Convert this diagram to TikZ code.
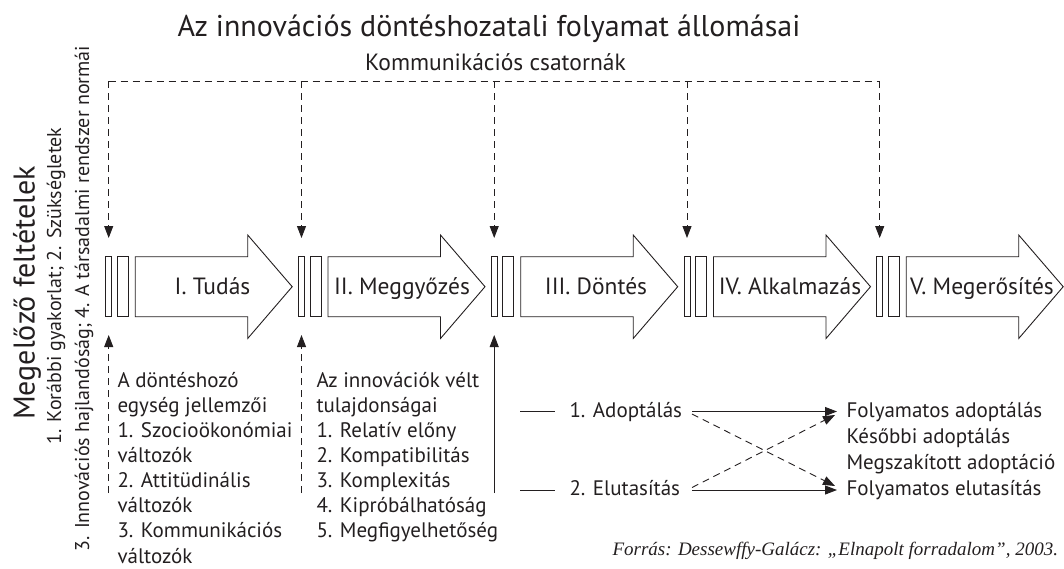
\documentclass[tikz,border=0pt]{standalone}
\usepackage{fontspec}
\setmainfont{PT Sans}
\newfontfamily\srcfont{Liberation Serif}
\usetikzlibrary{arrows.meta}
\definecolor{ink}{HTML}{231F20}
\begin{document}
\begin{tikzpicture}[x=1pt,y=-1pt,line width=0.9pt,draw=ink,
  every node/.style={inner sep=0pt,outer sep=0pt,text=ink},
  slotA/.style={draw,minimum width=6pt,minimum height=60pt,anchor=north west},
  slotB/.style={draw,minimum width=11pt,minimum height=60pt,anchor=north west},
  tip/.style={-{Triangle[width=9pt,length=12pt]}},
  dashln/.style={dash pattern=on 7pt off 5pt},
  steplab/.style={font=\fontsize{23.5}{28}\selectfont,anchor=base},
  listtxt/.style={font=\fontsize{21}{25}\selectfont,anchor=base west},
  sidetxt/.style={font=\fontsize{20}{24}\selectfont,rotate=90}]
\useasboundingbox (0,0) rectangle (1064,568);

\node[anchor=base] (title) at (489,36.5) {\fontsize{30}{36}\selectfont Az innovációs döntéshozatali folyamat állomásai};
\node[anchor=base] (kom) at (495.5,70) {\fontsize{23.5}{28}\selectfont Kommunikációs csatornák};

\foreach \g/\lab/\cx [count=\i] in {105.7/{I. Tudás}/212.5,298.5/{II. Meggyőzés}/402,491.2/{III. Döntés}/596,684/{IV. Alkalmazás}/790,876.7/{V. Megerősítés}/982}{
  \node[slotA] (sa\i) at (\g,256.7) {};
  \node[slotB] (sb\i) at (\g+11.5,256.7) {};
  \draw (\g+29.5,256.7) -- (\g+142,256.7) -- (\g+142,235) -- (\g+186.5,286.7)
        -- (\g+142,338.5) -- (\g+142,316.7) -- (\g+29.5,316.7) -- cycle;
  \node[steplab] (st\i) at (\cx,294) {\lab};
  \coordinate (top\i) at (\g+3,81);
  \coordinate (tin\i) at (\g+3,238);
  \draw[dashln,tip] (top\i) -- (tin\i);
}
\draw[dashln] (top1) -- (top5);

% bottom influence arrows
\coordinate (u1) at (108.7,493);
\coordinate (u1t) at (108.7,335);
\coordinate (u2) at (301.5,493);
\coordinate (u2t) at (301.5,335);
\coordinate (u3) at (494.2,493);
\coordinate (u3t) at (494.2,335);
\draw[dashln,tip] (u1) -- (u1t);
\draw[dashln,tip] (u2) -- (u2t);
\draw[tip] (u3) -- (u3t);

\foreach \t [count=\k] in {A döntéshozó,egység jellemzői,1. Szocioökonómiai,változók,2. Attitüdinális,változók,3. Kommunikációs,változók}
  \node[listtxt] (la\k) at (117.5,{387+25.15*(\k-1)}) {\t};
\foreach \t [count=\k] in {Az innovációk vélt,tulajdonságai,1. Relatív előny,2. Kompatibilitás,3. Komplexitás,4. Kipróbálhatóság,5. Megfigyelhetőség}
  \node[listtxt] (lb\k) at (316.5,{387+25.15*(\k-1)}) {\t};

% decision
\coordinate (a0) at (520,411.5);
\coordinate (a1) at (555,411.5);
\node[listtxt] (ad) at (569.5,417) {1. Adoptálás};
\coordinate (e0) at (520,490);
\coordinate (e1) at (555,490);
\node[listtxt] (el) at (569.5,495.5) {2. Elutasítás};
\draw (a0) -- (a1);
\draw (e0) -- (e1);
\coordinate (as) at (692,411.5);
\coordinate (es) at (692,490);
\foreach \t [count=\k] in {Folyamatos adoptálás,Későbbi adoptálás,Megszakított adoptáció,Folyamatos elutasítás}
  \node[listtxt] (r\k) at (846.5,{417+26.1*(\k-1)}) {\t};
\coordinate (rt1) at (837,411.5);
\coordinate (rt4) at (837,490);
\draw[tip] (as) -- (rt1);
\draw[tip] (es) -- (rt4);
\coordinate (ds1) at (692,414);
\coordinate (dt1) at (835,486);
\coordinate (ds2) at (692,487.5);
\coordinate (dt2) at (835,415);
\draw[dashln,tip] (ds1) -- (dt1);
\draw[dashln,tip] (ds2) -- (dt2);

% left side
\node[rotate=90,font=\fontsize{30}{34}\selectfont] (meg) at (27,293) {Megelőző feltételek};
\node[sidetxt] (s1) at (56,286) {1. Korábbi gyakorlat; 2. Szükségletek};
\node[sidetxt] (s2) at (84,298.5) {3. Innovációs hajlandóság; 4. A társadalmi rendszer normái};

\node[anchor=base east,font=\srcfont\itshape\fontsize{19}{22}\selectfont] (src) at (1058,555)
  {Forrás: Dessewffy-Galácz: „Elnapolt forradalom”, 2003.};
\end{tikzpicture}
\end{document}
